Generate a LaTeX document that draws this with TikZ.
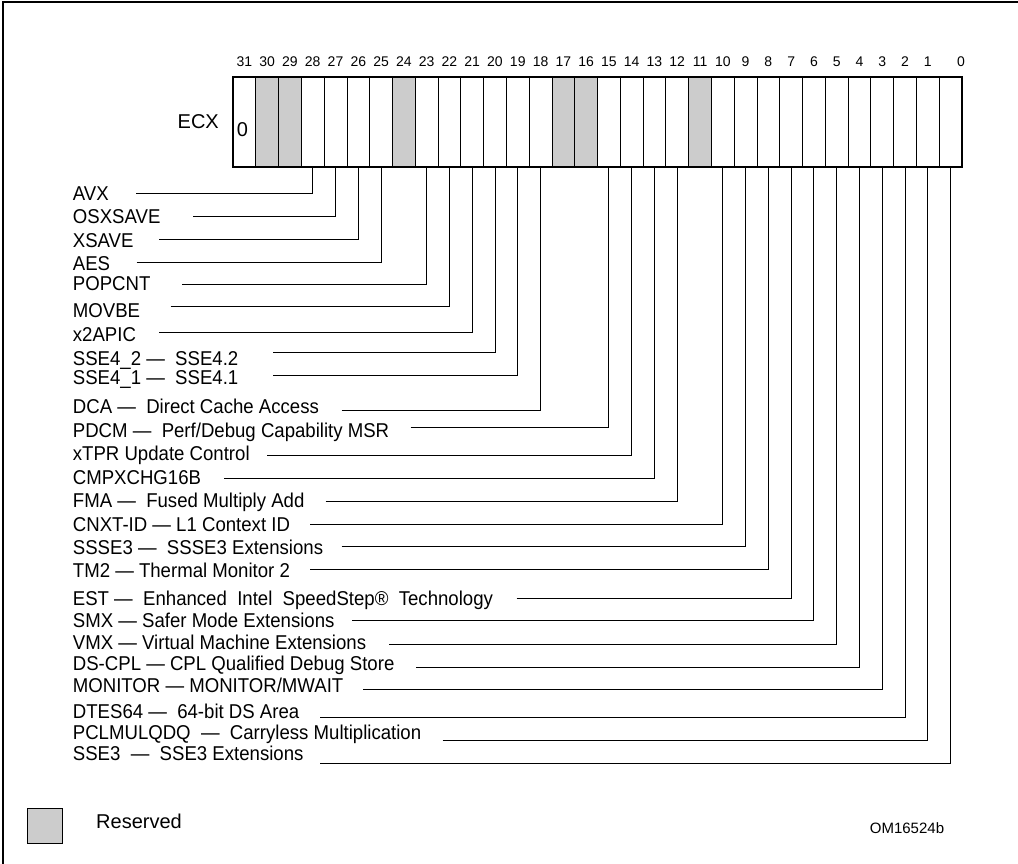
\documentclass[tikz,border=0pt]{standalone}
\usepackage{fontspec}
\setmainfont{Liberation Sans}
\newfontfamily\narrowfont[FakeStretch=0.93]{Liberation Sans}
\usetikzlibrary{positioning}
\definecolor{resgray}{RGB}{204,204,204}

\begin{document}
\begin{tikzpicture}[x=1pt, y=-1pt,
    cell/.style={draw, line width=0.8pt, minimum width=22.78pt, minimum height=90pt, inner sep=0pt, outer sep=0pt},
    rsvd/.style={cell, fill=resgray},
    bitnum/.style={font=\fontsize{14}{16}\selectfont, inner sep=0pt},
    txt/.style={font=\fontsize{20}{24}\selectfont, inner sep=0pt},
    lbl/.style={font=\narrowfont\fontsize{20}{24}\selectfont, inner sep=0pt, text height=14.3pt, text depth=0pt, anchor=west},
    lead/.style={line width=0.9pt}]
    \useasboundingbox (0,0) rectangle (1018,864);

    % frame (only top and left edge show)
    \draw[line width=2pt] (2.5,864) -- (2.5,2.5) -- (1018,2.5);

    % width of one bit cell
    \def\cellW{22.78125}

    % register cells, bit 31 on the left
    \foreach \i in {31,28,27,26,25,23,22,21,20,19,18,15,14,13,12,10,9,...,0}
        \node[cell] (b\i) at ({233+(31.5-\i)*\cellW},121.7) {};
    % reserved bits
    \foreach \i in {30,29,24,17,16,11}
        \node[rsvd] (b\i) at ({233+(31.5-\i)*\cellW},121.7) {};
    \draw[line width=2pt] (b31.north west) rectangle (b0.south east);

    % bit numbers
    \foreach \i in {1,...,31}
        \node[bitnum] (n\i) at ([yshift=15pt]b\i.north) {\i};
    \node[bitnum] (n0) at ([xshift=-1pt,yshift=15pt]b0.north east) {0};

    \node[txt, left=14pt of b31] (ecx) {ECX};
    \node[txt] (zero) at ([xshift=-2pt,yshift=-8pt]b31.center) {0};

    % feature flags: bit / text y / line y / line start x / text
    \foreach \b/\ty/\ly/\sx/\t in {
        28/193/193.3/136/AVX,
        27/216/216/193/OSXSAVE,
        26/240/239/159/XSAVE,
        25/263.3/262.7/136.7/AES,
        23/283.7/284/182/POPCNT,
        22/310.5/306.7/170.7/MOVBE,
        21/334/332.7/159/x2APIC,
        20/358/352.7/273.3/{SSE4\_2 —\ \ SSE4.2},
        19/377.5/375.7/273.3/{SSE4\_1 —\ \ SSE4.1},
        18/406.7/410/341.7/{DCA —\ \ Direct Cache Access},
        15/430.8/427/410.7/{PDCM —\ \ Perf/Debug Capability MSR},
        14/453.8/455.5/267.3/{xTPR Update Control},
        13/477.5/478.3/224/CMPXCHG16B,
        12/500.5/501.3/325.7/{FMA —\ \ Fused Multiply Add},
        10/524/524/310/{CNXT-ID — L1 Context ID},
        9/547.5/546.7/341.7/{SSSE3 —\ \ SSSE3 Extensions},
        8/570.8/569.5/310/{TM2 — Thermal Monitor 2},
        7/598.7/598.3/516.7/{EST —\ \ Enhanced\ \ Intel\ \ SpeedStep®\ \ Technology},
        6/620.5/620.3/352.3/{SMX — Safer Mode Extensions},
        5/642/644/389.3/{VMX — Virtual Machine Extensions},
        4/663.8/667.5/416/{DS-CPL — CPL Qualified Debug Store},
        3/685.3/689.2/363.3/{MONITOR — MONITOR/MWAIT},
        2/711.7/717.7/320/{DTES64 —\ \ 64-bit DS Area},
        1/732.5/740.5/442.7/{PCLMULQDQ\ \ —\ \ Carryless Multiplication},
        0/753.8/763/320/{SSE3\ \ —\ \ SSE3 Extensions}}
    {
        \node[lbl] (l\b) at (72.7,\ty) {\t};
        \coordinate (s\b) at (\sx,\ly);
        \draw[lead] (s\b) -| (b\b.south);
    }

    % legend
    \node[draw, fill=resgray, line width=0.8pt, minimum width=35pt, minimum height=35pt, inner sep=0pt] (legbox) at (44.5,825.5) {};
    \node[txt, anchor=west] (legtxt) at (96,821.5) {Reserved};
    \node[font=\fontsize{15}{18}\selectfont, inner sep=0pt] (figno) at (907,828) {OM16524b};
\end{tikzpicture}
\end{document}
